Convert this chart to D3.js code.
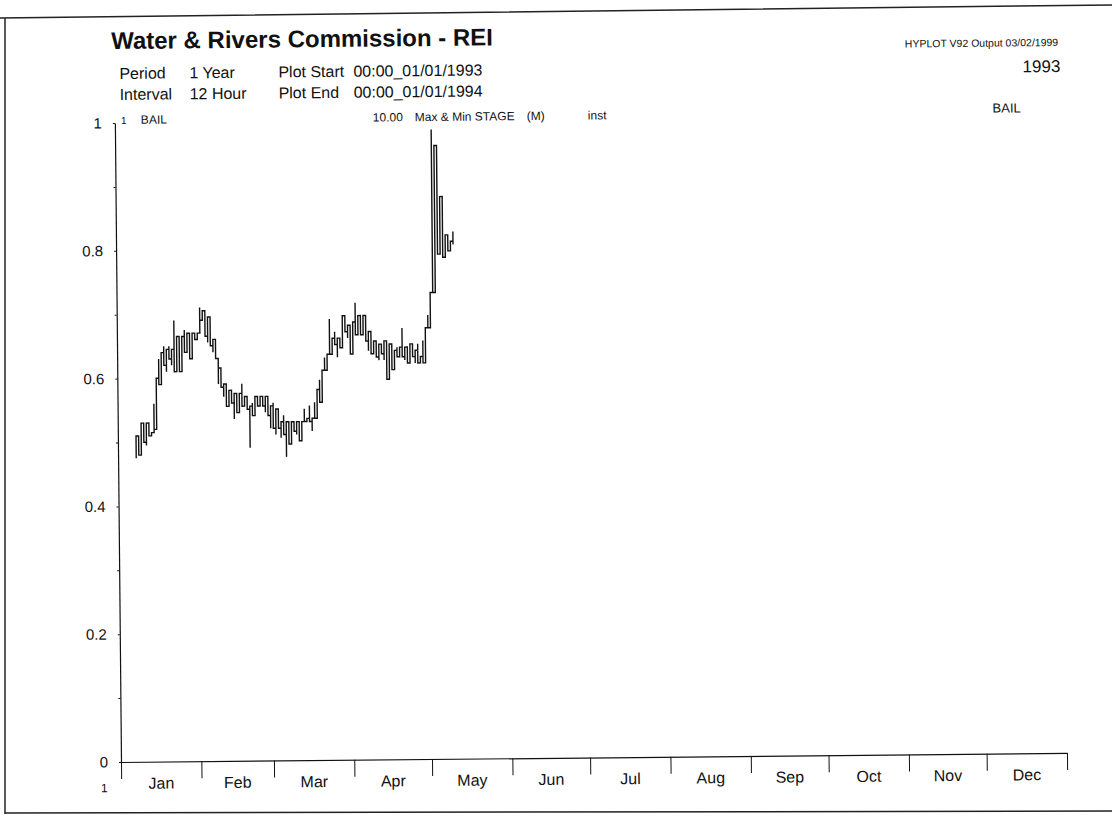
<!DOCTYPE html>
<html>
  <head>
    <meta charset="UTF-8">
    <title>BAIL Stage 1993</title>
    <style>
      body {margin: 0; background-color: #fff;}
      #chart svg {display: block; font-family: "Liberation Sans", Arial, sans-serif; fill: #111;}
      .tick line {stroke: #111}
      .domain {stroke: #111}
    </style>
  </head>
  <body>
    <div id="chart"></div>
    <script src="https://d3js.org/d3.v7.min.js"></script>
    <script>

// month labels along the bottom
const months = ["Jan", "Feb", "Mar", "Apr", "May", "Jun", "Jul", "Aug", "Sep", "Oct", "Nov", "Dec"];
const yTicks = [0, 0.2, 0.4, 0.6, 0.8, 1];
const yMinorTicks = [0.1, 0.3, 0.5, 0.7, 0.9];

// daily max & min stage (m) from this first date on
const firstDay = "1993-01-08";
const stageMin = [
  0.475, 0.48, 0.49, 0.50, 0.495, 0.51, 0.51, 0.52, 0.56, 0.59, 0.60, 0.62, 0.61, 0.63, 0.62, 0.61,
  0.625, 0.61, 0.645, 0.64, 0.655, 0.63, 0.64, 0.66, 0.665, 0.69, 0.69, 0.665, 0.655, 0.65, 0.64, 0.63,
  0.59, 0.585, 0.57, 0.555, 0.57, 0.56, 0.535, 0.545, 0.55, 0.555, 0.555, 0.55, 0.49, 0.54, 0.555, 0.555,
  0.555, 0.555, 0.545, 0.54, 0.52, 0.52, 0.51, 0.52, 0.505, 0.51, 0.475, 0.495, 0.51, 0.515, 0.51, 0.50,
  0.515, 0.53, 0.53, 0.53, 0.515, 0.535, 0.55, 0.56, 0.595, 0.61, 0.63, 0.635, 0.635, 0.65, 0.63, 0.645,
  0.665, 0.67, 0.66, 0.635, 0.66, 0.665, 0.67, 0.665, 0.665, 0.655, 0.64, 0.635, 0.635, 0.63, 0.625, 0.635,
  0.625, 0.595, 0.62, 0.61, 0.625, 0.63, 0.635, 0.63, 0.625, 0.62, 0.63, 0.63, 0.62, 0.62, 0.62, 0.62,
  0.655, 0.675, 0.69, 0.73, 0.80, 0.79, 0.80, 0.785, 0.79, 0.795, 0.80, 0.805
];
const stageMax = [
  0.51, 0.505, 0.53, 0.52, 0.53, 0.52, 0.515, 0.56, 0.60, 0.63, 0.64, 0.65, 0.645, 0.65, 0.645, 0.69,
  0.665, 0.66, 0.665, 0.675, 0.67, 0.665, 0.67, 0.67, 0.67, 0.71, 0.705, 0.69, 0.695, 0.675, 0.66, 0.65,
  0.615, 0.60, 0.59, 0.585, 0.58, 0.58, 0.575, 0.565, 0.575, 0.59, 0.57, 0.565, 0.555, 0.56, 0.57, 0.565,
  0.57, 0.565, 0.57, 0.56, 0.555, 0.56, 0.55, 0.545, 0.53, 0.54, 0.53, 0.53, 0.53, 0.525, 0.53, 0.52,
  0.53, 0.55, 0.535, 0.555, 0.535, 0.56, 0.58, 0.595, 0.61, 0.63, 0.635, 0.69, 0.66, 0.67, 0.66, 0.655,
  0.695, 0.695, 0.68, 0.67, 0.685, 0.715, 0.695, 0.68, 0.695, 0.675, 0.67, 0.66, 0.655, 0.655, 0.65, 0.645,
  0.655, 0.655, 0.65, 0.645, 0.64, 0.645, 0.645, 0.675, 0.645, 0.635, 0.65, 0.64, 0.64, 0.65, 0.63, 0.655,
  0.675, 0.695, 0.73, 0.985, 0.96, 0.90, 0.88, 0.86, 0.82, 0.805, 0.81, 0.825
];

const width = 1112, height = 822;
const plotLeft = 121, plotRight = 1067, plotTop = 123, plotBottom = 762;

const svg = d3.select("#chart").append("svg")
  .attr("width", width)
  .attr("height", height);

// page frame of the scanned sheet
svg.append("path")
  .attr("d", "M0,18 L1112,5 M5,18 L5,814 M5,813 L1112,811")
  .attr("fill", "none")
  .attr("stroke", "#222")
  .attr("stroke-width", 1.5);

// the sheet is scanned slightly skewed
const g = svg.append("g").attr("transform", `rotate(-0.55, ${plotLeft}, ${plotBottom})`);

const parse = d3.timeParse("%Y-%m-%d");
const start = parse(firstDay);
const records = stageMin.map((v, i) => ({date: d3.timeDay.offset(start, i), min: v, max: stageMax[i]}));

const x = d3.scaleTime()
  .domain([new Date(1993, 0, 1), new Date(1994, 0, 1)])
  .range([plotLeft, plotRight]);
const y = d3.scaleLinear().domain([0, 1]).range([plotBottom, plotTop]);

// x axis: month boundaries with labels centred between them
const monthStarts = d3.timeMonth.range(new Date(1993, 0, 1), new Date(1994, 0, 2));
g.append("g")
  .attr("transform", `translate(0,${plotBottom})`)
  .call(d3.axisBottom(x).tickValues(monthStarts).tickSize(17).tickSizeOuter(0).tickFormat(""))
  .call(a => a.select(".domain").attr("stroke-width", 1.2));

g.append("g").selectAll("text")
  .data(months)
  .join("text")
  .attr("x", (d, i) => (x(monthStarts[i]) + x(monthStarts[i + 1])) / 2)
  .attr("y", plotBottom + 27)
  .attr("text-anchor", "middle")
  .attr("font-size", 16)
  .text(d => d);

// y axis
g.append("g")
  .attr("transform", `translate(${plotLeft},0)`)
  .call(d3.axisLeft(y).tickValues(yTicks).tickSize(2).tickSizeOuter(0).tickPadding(11).tickFormat(d3.format("")))
  .call(a => a.selectAll("text").attr("font-size", 15).attr("fill", "#111"))
  .call(a => a.select(".domain").attr("stroke-width", 1.2));

g.append("g")
  .attr("transform", `translate(${plotLeft},0)`)
  .call(d3.axisLeft(y).tickValues(yMinorTicks).tickSize(2).tickFormat(""))
  .call(a => a.select(".domain").remove());

g.append("text")
  .attr("x", 104).attr("y", plotBottom + 30)
  .attr("text-anchor", "middle").attr("font-size", 12)
  .text("1");

// max & min trace
const pts = [];
records.forEach((d, i) => {
  if (i % 2 === 0) { pts.push([d.date, d.min], [d.date, d.max]); }
  else { pts.push([d.date, d.max], [d.date, d.min]); }
});
const line = d3.line()
  .x(d => x(d[0]))
  .y(d => y(d[1]))
  .curve(d3.curveStepAfter);

g.append("path")
  .datum(pts)
  .attr("fill", "none")
  .attr("stroke", "#111")
  .attr("stroke-width", 1.4)
  .attr("d", line);

// header
g.append("text").attr("x", 118).attr("y", 49)
  .attr("font-size", 24).attr("font-weight", "bold")
  .text("Water & Rivers Commission - REI");

const head = g.append("g").attr("font-size", 16);
head.append("text").attr("x", 126).attr("y", 79).text("Period");
head.append("text").attr("x", 196).attr("y", 79).text("1 Year");
head.append("text").attr("x", 285).attr("y", 79).text("Plot Start");
head.append("text").attr("x", 360).attr("y", 79).text("00:00_01/01/1993");
head.append("text").attr("x", 126).attr("y", 100).text("Interval");
head.append("text").attr("x", 196).attr("y", 100).text("12 Hour");
head.append("text").attr("x", 285).attr("y", 100).text("Plot End");
head.append("text").attr("x", 360).attr("y", 100).text("00:00_01/01/1994");

const row = g.append("g").attr("font-size", 12);
row.append("text").attr("x", 127).attr("y", 124).attr("font-size", 10).text("1");
row.append("text").attr("x", 147).attr("y", 124).text("BAIL");
row.append("text").attr("x", 379).attr("y", 124).text("10.00");
row.append("text").attr("x", 421).attr("y", 124).text("Max & Min STAGE");
row.append("text").attr("x", 533).attr("y", 124).text("(M)");
row.append("text").attr("x", 594).attr("y", 124).text("inst");
row.append("text").attr("x", 1027).attr("y", 121).attr("text-anchor", "end").attr("font-size", 13).text("BAIL");

g.append("text").attr("x", 1065).attr("y", 55)
  .attr("text-anchor", "end").attr("font-size", 10.5)
  .text("HYPLOT V92 Output 03/02/1999");
g.append("text").attr("x", 1067).attr("y", 81)
  .attr("text-anchor", "end").attr("font-size", 17)
  .text("1993");

    </script>
  </body>
</html>
